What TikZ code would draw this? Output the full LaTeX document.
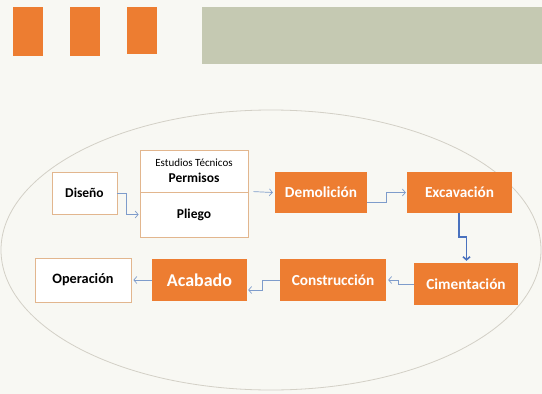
\documentclass[tikz,border=0pt]{standalone}
\usepackage{fontspec}
\setmainfont{Carlito}
\usetikzlibrary{arrows.meta}
\definecolor{org}{HTML}{ED7D31}
\definecolor{greybar}{HTML}{C5C9B2}
\definecolor{bgc}{HTML}{F8F8F3}
\definecolor{ellc}{HTML}{D3D0C6}
\definecolor{tan}{HTML}{E2B68E}
\definecolor{arrc}{HTML}{7E9CCB}
\definecolor{arrd}{HTML}{4A72BE}
\begin{document}
\begin{tikzpicture}[x=1pt,y=-1pt,
  wbox/.style={draw=tan, line width=0.8pt, fill=white, inner sep=0pt, font=\fontsize{13.5}{15}\selectfont\bfseries, text=black},
  obox/.style={fill=org, inner sep=0pt, font=\fontsize{15.3}{17}\selectfont\bfseries, text=white},
  arr/.style={draw=arrc, line width=0.7pt, -{Straight Barb[length=3pt,width=7pt]}},
  arrbig/.style={draw=arrd, line width=1.6pt, -{Straight Barb[length=3pt,width=7pt]}}]
\fill[bgc] (0,0) rectangle (542,394);
\useasboundingbox (0,0) rectangle (542,394);
% header
\fill[org] (13,7) rectangle (43,56);
\fill[org] (70,7) rectangle (100,56);
\fill[org] (127,7) rectangle (157,54);
\fill[greybar] (202,7) rectangle (542,64);
% ellipse
\draw[ellc, line width=0.8pt] (271,250) ellipse [x radius=270, y radius=140];
% nodes
\node[wbox, minimum width=65pt, minimum height=42pt] (dis) at (84.5,193) {Diseño};
\node[wbox, minimum width=108pt, minimum height=42pt, align=center] (est) at (194,171)
  {{\fontsize{11}{12}\selectfont\mdseries Estudios Técnicos}\\[1pt]Permisos};
\node[wbox, minimum width=108pt, minimum height=45pt] (pli) at (194,214.5) {Pliego};
\node[obox, minimum width=92pt, minimum height=41pt] (dem) at (321,192.5) {Demolición};
\node[obox, minimum width=105pt, minimum height=41pt] (exc) at (459.5,192.5) {Excavación};
\node[obox, minimum width=104pt, minimum height=42pt] (cim) at (466,284) {Cimentación};
\node[obox, minimum width=106pt, minimum height=42pt] (con) at (333,280) {Construcción};
\node[obox, minimum width=95pt, minimum height=42pt, font=\fontsize{18}{20}\selectfont\bfseries] (aca) at (199.5,280) {Acabado};
\node[wbox, minimum width=96pt, minimum height=44pt, font=\fontsize{14.3}{16}\selectfont\bfseries] (ope) at (83,280) {Operación};
% connectors
\draw[arr] (dis.east) -- ++(9,0) |- ([xshift=-1pt]pli.west);
\draw[arr] ([xshift=5pt]pli.north east) -- ([xshift=-2pt]dem.west);
\draw[arr] ([yshift=-9.5pt]dem.east) -- ++(19,0) |- ([xshift=-1pt]exc.west);
\draw[arrbig] ([xshift=-0.5pt]exc.south) -- ++(0,24) -| ([xshift=0.5pt,yshift=2pt]cim.north);
\draw[arr] (cim.west) -- ++(-15,0) |- ([xshift=2pt]con.east);
\draw[arr] (con.west) -- ++(-17,0) |- ([xshift=1pt,yshift=-10pt]aca.east);
\draw[arr] (aca.west) -- ([xshift=2pt]ope.east);
\end{tikzpicture}
\end{document}
